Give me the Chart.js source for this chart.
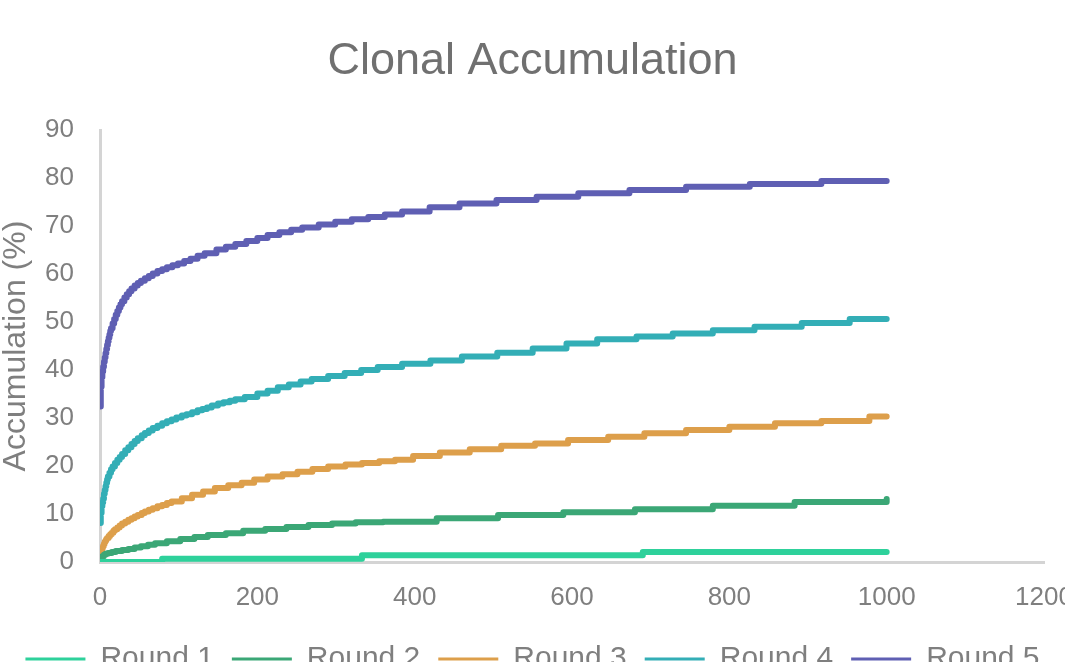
<!DOCTYPE html>
<html>
<head>
<meta charset="utf-8">
<title>Clonal Accumulation</title>
<script src="https://cdn.jsdelivr.net/npm/chart.js@4/dist/chart.umd.min.js"></script>
<style>
  html, body { margin: 0; padding: 0; background: #ffffff; overflow: hidden; }
  #wrap { width: 1065px; height: 684px; }
</style>
</head>
<body>
<div id="wrap"><canvas id="chart" width="1065" height="684"></canvas></div>
<script>
// Series names and axis tick values
const seriesNames = ["Round 1", "Round 2", "Round 3", "Round 4", "Round 5"];
const xTicks = [0, 200, 400, 600, 800, 1000, 1200];
const yTicks = [0, 10, 20, 30, 40, 50, 60, 70, 80, 90];

// Step positions (x) and the accumulation level (%) reached at each one
const round1X = [0, 79, 333, 690, 1000];
const round1Y = [0, 0.7, 1.4, 2.1, 2.1];

const round2X = [0, 1, 2, 3, 5, 7, 10, 15, 20, 28, 36, 44, 52, 61, 70, 85, 102, 120, 137, 160, 182, 210, 237, 265, 295, 325, 360, 428, 506, 589, 680, 779, 883, 1000];
const round2Y = [0, 0.5, 0.9, 1.2, 1.5, 1.7, 1.9, 2.1, 2.3, 2.5, 2.7, 3.0, 3.3, 3.6, 3.9, 4.3, 4.8, 5.2, 5.6, 6.0, 6.5, 6.9, 7.3, 7.7, 8.0, 8.3, 8.4, 9.1, 9.8, 10.35, 11.0, 11.7, 12.5, 13.1];

const round3X = [0, 1, 2, 3, 4, 5, 6, 7, 8, 9, 11, 13, 15, 17, 19, 22, 25, 28, 32, 36, 40, 44, 48, 53, 57, 62, 67, 73, 79, 85, 91, 104, 117, 131, 146, 163, 180, 196, 213, 232, 251, 270, 290, 312, 333, 355, 375, 398, 432, 470, 510, 553, 595, 646, 692, 745, 800, 858, 917, 978, 1000];
const round3Y = [0.5, 1.5, 2.5, 3.0, 3.4, 3.8, 4.2, 4.5, 4.8, 5.0, 5.4, 5.8, 6.1, 6.5, 6.8, 7.2, 7.6, 8.0, 8.4, 8.8, 9.1, 9.5, 9.8, 10.2, 10.5, 10.9, 11.2, 11.6, 11.9, 12.3, 12.6, 13.3, 14.0, 14.7, 15.4, 16.0, 16.5, 17.2, 17.8, 18.3, 18.8, 19.4, 19.9, 20.3, 20.6, 21.0, 21.3, 22.1, 22.8, 23.5, 24.2, 24.7, 25.4, 26.1, 26.8, 27.5, 28.2, 28.9, 29.4, 30.3, 30.3];

const round4X = [0, 1, 2, 3, 4, 5, 6, 7, 8, 9, 10, 12, 14, 16, 19, 22, 25, 28, 32, 36, 40, 44, 48, 53, 57, 62, 67, 73, 79, 85, 91, 97, 104, 110, 117, 124, 130, 136, 142, 150, 157, 165, 172, 184, 200, 213, 226, 240, 255, 269, 290, 311, 332, 353, 384, 420, 460, 505, 550, 593, 632, 682, 728, 779, 832, 892, 953, 1000];
const round4Y = [8.1, 10.2, 11.6, 12.4, 13.2, 14.2, 15.0, 15.8, 16.5, 17.2, 17.8, 18.6, 19.3, 19.9, 20.6, 21.3, 21.9, 22.5, 23.3, 23.9, 24.6, 25.2, 25.8, 26.4, 26.9, 27.4, 27.9, 28.4, 28.9, 29.3, 29.7, 30.1, 30.5, 30.8, 31.2, 31.6, 31.9, 32.2, 32.6, 33.0, 33.3, 33.6, 33.9, 34.4, 35.1, 35.7, 36.4, 37.0, 37.6, 38.1, 38.75, 39.4, 40.0, 40.6, 41.3, 42.0, 42.8, 43.6, 44.5, 45.5, 46.4, 47.0, 47.6, 48.3, 49.0, 49.8, 50.6, 50.6];

const round5X = [0, 1, 2, 3, 4, 5, 6, 7, 8, 9, 10, 11, 12, 13, 14, 16, 18, 20, 22, 24, 26, 28, 31, 34, 37, 40, 44, 48, 52, 57, 62, 67, 73, 79, 85, 92, 99, 107, 115, 124, 133, 148, 160, 172, 186, 200, 213, 228, 243, 257, 278, 299, 320, 341, 362, 384, 419, 457, 504, 555, 608, 673, 745, 826, 917, 1000];
const round5Y = [32.4, 36.5, 38.5, 39.7, 40.7, 41.7, 42.6, 43.5, 44.4, 45.2, 46.0, 46.7, 47.4, 48.1, 48.7, 49.7, 50.6, 51.5, 52.3, 53.0, 53.7, 54.3, 55.1, 55.8, 56.4, 57.0, 57.6, 58.1, 58.6, 59.1, 59.6, 60.1, 60.6, 61.0, 61.4, 61.8, 62.2, 62.7, 63.2, 63.8, 64.3, 65.1, 65.7, 66.25, 66.9, 67.5, 68.1, 68.7, 69.2, 69.7, 70.3, 70.9, 71.4, 71.9, 72.4, 73.0, 73.9, 74.7, 75.4, 76.1, 76.8, 77.5, 78.2, 78.75, 79.4, 79.4];

const seriesX = [round1X, round2X, round3X, round4X, round5X];
const seriesY = [round1Y, round2Y, round3Y, round4Y, round5Y];
const seriesColors = ["#2ed19b", "#3ba776", "#dd9f4b", "#33aeb6", "#5f5fb3"];

const FONT = "'Liberation Sans', Arial, Helvetica, sans-serif";
const TEXT_GREY = "#7f7f7f";
const AXIS_GREY = "#d4d4d4";

const datasets = seriesNames.map((name, i) => ({
  label: name,
  data: seriesX[i].map((x, j) => ({ x: x, y: seriesY[i][j] })),
  borderColor: seriesColors[i],
  backgroundColor: seriesColors[i],
  borderWidth: 6,
  borderCapStyle: "round",
  borderJoinStyle: "round",
  pointRadius: 0,
  pointHoverRadius: 0,
  stepped: true,
  fill: false
}));

new Chart(document.getElementById("chart"), {
  type: "line",
  data: { datasets: datasets },
  options: {
    responsive: false,
    devicePixelRatio: 1,
    animation: false,
    layout: { padding: 0 },
    plugins: {
      tooltip: { enabled: false },
      title: {
        display: true,
        text: "Clonal Accumulation",
        color: "#707070",
        font: { family: FONT, size: 45, weight: "normal", lineHeight: 1.2 },
        padding: { top: 35, bottom: 41 }
      },
      legend: {
        position: "bottom",
        labels: {
          color: TEXT_GREY,
          font: { family: FONT, size: 30 },
          boxWidth: 60,
          boxHeight: 3,
          padding: 18,
          generateLabels(chart) {
            return Chart.defaults.plugins.legend.labels.generateLabels(chart)
              .map(item => Object.assign({}, item, { lineWidth: 0, fillStyle: item.strokeStyle }));
          }
        }
      }
    },
    scales: {
      x: {
        type: "linear",
        min: xTicks[0],
        max: xTicks[xTicks.length - 1],
        afterBuildTicks(scale) { scale.ticks = xTicks.map(v => ({ value: v })); },
        afterFit(scale) { scale.height = 64; scale.paddingLeft = 0; scale.paddingRight = 21; },
        grid: { display: false, drawTicks: false },
        border: { display: true, color: AXIS_GREY, width: 3 },
        ticks: {
          color: TEXT_GREY, font: { family: FONT, size: 26 }, padding: 20,
          maxRotation: 0, autoSkip: false,
          callback: v => String(v)
        }
      },
      y: {
        min: yTicks[0],
        max: yTicks[yTicks.length - 1],
        afterBuildTicks(scale) { scale.ticks = yTicks.map(v => ({ value: v })); },
        afterFit(scale) { scale.width = 100; },
        grid: { display: false, drawTicks: false },
        border: { display: true, color: AXIS_GREY, width: 3 },
        ticks: { color: TEXT_GREY, font: { family: FONT, size: 26 }, padding: 26, callback: v => String(v) },
        title: {
          display: true,
          text: "Accumulation (%)",
          color: TEXT_GREY,
          font: { family: FONT, size: 32, lineHeight: 1.0 },
          padding: { top: 0, bottom: 0 }
        }
      }
    }
  }
});
</script>
</body>
</html>
